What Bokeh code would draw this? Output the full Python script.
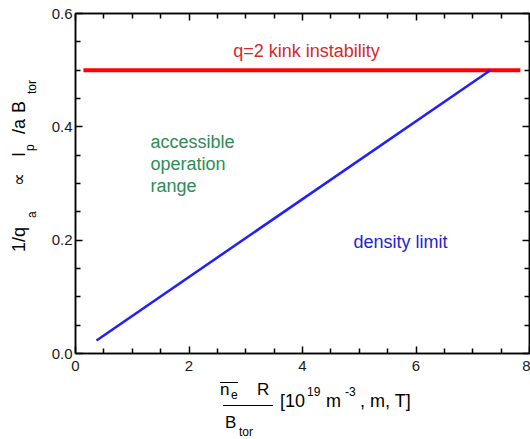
from bokeh.plotting import figure
from bokeh.models import (Range1d, LinearAxis, FixedTicker, NumeralTickFormatter, Label, Div)
from bokeh.layouts import row, column
from bokeh.embed import file_html
from bokeh.resources import INLINE

# ---- data ----
kink_x = [0.14, 7.84]
kink_y = [0.5, 0.5]
density_x = [0.37, 7.31]
density_y = [0.023, 0.5]
x_ticks = [0, 2, 4, 6, 8]
x_minor = [0.5, 1, 1.5, 2.5, 3, 3.5, 4.5, 5, 5.5, 6.5, 7, 7.5]
y_ticks = [0.0, 0.2, 0.4, 0.6]
y_minor = [0.05, 0.1, 0.15, 0.25, 0.3, 0.35, 0.45, 0.5, 0.55]

FONT = "Liberation Sans"
YDIV_W = 45
FIG_W, FIG_H = 485, 380
XDIV_H = 59
LEFT, RIGHT, TOP, BOTTOM = 30, 1, 13, 27

p = figure(width=FIG_W, height=FIG_H, output_backend="svg", toolbar_location=None,
           x_range=Range1d(0, 8), y_range=Range1d(0, 0.6),
           min_border_left=LEFT, min_border_right=RIGHT,
           min_border_top=TOP, min_border_bottom=BOTTOM,
           x_axis_location=None, y_axis_location=None, margin=0)
p.grid.visible = False
p.outline_line_color = "black"
p.outline_line_width = 1.5

def make_axis(ticks, minor, fmt, show_labels, standoff):
    ax = LinearAxis(ticker=FixedTicker(ticks=ticks, minor_ticks=minor),
                    formatter=NumeralTickFormatter(format=fmt))
    ax.major_tick_in = 7
    ax.major_tick_out = 0
    ax.minor_tick_in = 5
    ax.minor_tick_out = 0
    ax.axis_line_color = "black"
    ax.axis_line_width = 1.5
    ax.major_tick_line_width = 1.5
    ax.minor_tick_line_width = 1.5
    ax.major_label_text_font = FONT
    ax.major_label_text_font_size = "15px"
    ax.axis_label_standoff = 0
    ax.axis_label_text_color = None
    if show_labels:
        ax.major_label_text_color = "#1a1a1a"
        ax.major_label_standoff = standoff
    else:
        ax.major_label_text_color = None
        ax.major_label_standoff = 0
    return ax

p.add_layout(make_axis(x_ticks, x_minor, "0", True, 7), "below")
p.add_layout(make_axis(y_ticks, y_minor, "0.0", True, 3), "left")
p.add_layout(make_axis(x_ticks, x_minor, "0", False, 0), "above")
p.add_layout(make_axis(y_ticks, y_minor, "0.0", False, 0), "right")

p.line(kink_x, kink_y, line_color="#ff0000", line_width=4)
p.line(density_x, density_y, line_color="#1f1fff", line_width=2.5)

# pixel helpers for annotation placement inside the frame (page coords)
FX0 = YDIV_W + LEFT
FY0 = TOP + (FIG_H - TOP - BOTTOM)
FW = FIG_W - LEFT - RIGHT
FH = FIG_H - TOP - BOTTOM
def dx(px):
    return (px - FX0) * 8 / FW
def dy(py):
    return (FY0 - py) * 0.6 / FH

def lab(text, px, py, size, color, align="left"):
    p.add_layout(Label(x=dx(px), y=dy(py), text=text, text_font=FONT,
                       text_font_size=f"{size}px", text_color=color,
                       text_align=align, text_baseline="middle"))

lab("q=2 kink instability", 306, 50, 18, "#d42a2a", align="center")
for i, t in enumerate(["accessible", "operation", "range"]):
    lab(t, 150, 141 + 22 * i, 18, "#2e8b57")
lab("density limit", 353, 241, 18, "#2323d0")

# ---- axis titles as HTML text ----
ASC = 0.8465  # baseline offset / font size with line-height = font size

def hpiece(text, x, baseline, size):
    top = baseline - ASC * size
    return (f'<div style="position:absolute;left:{x}px;top:{top:.1f}px;'
            f'font-size:{size}px;line-height:{size}px;white-space:nowrap">{text}</div>')

def vpiece(text, baseline_x, start_y, size):
    left = baseline_x - ASC * size
    return (f'<div style="position:absolute;left:{left:.1f}px;top:{start_y}px;'
            f'font-size:{size}px;line-height:{size}px;white-space:nowrap;'
            f'transform:rotate(-90deg);transform-origin:0 0">{text}</div>')

ypieces = [
    vpiece("1/q", 25, 252, 18),
    vpiece("a", 36, 218, 12),
    vpiece("&#8733;", 25, 186, 18),
    vpiece("I", 25, 157, 18),
    vpiece("p", 34, 151, 12),
    vpiece("/a", 25, 134, 18),
    vpiece("B", 25, 113, 18),
    vpiece("tor", 36, 94, 12),
]
ydiv = Div(width=YDIV_W, height=FIG_H, margin=0, text=(
    f'<div style="position:relative;width:{YDIV_W}px;height:{FIG_H}px;'
    f'font-family:\'{FONT}\';color:#000">' + "".join(ypieces) + '</div>'))

X0 = FIG_H  # page y of the x-title div
xpieces = [
    hpiece("n", 220, 395 - X0, 17),
    hpiece("e", 231, 399 - X0, 12),
    hpiece("R", 257, 395 - X0, 17),
    f'<div style="position:absolute;left:220px;top:{382 - X0}px;width:18px;border-top:1.3px solid #000"></div>',
    f'<div style="position:absolute;left:223px;top:{405 - X0}px;width:50px;border-top:1.3px solid #000"></div>',
    hpiece("B", 225, 428 - X0, 17),
    hpiece("tor", 239, 436 - X0, 12),
    hpiece("[10", 280, 407 - X0, 18),
    hpiece("19", 307, 396 - X0, 12),
    hpiece("m", 326, 407 - X0, 18),
    hpiece("-3", 345, 396 - X0, 12),
    hpiece(", m, T]", 360, 407 - X0, 18),
]
xdiv = Div(width=YDIV_W + FIG_W, height=XDIV_H, margin=0, text=(
    f'<div style="position:relative;width:{YDIV_W + FIG_W}px;height:{XDIV_H}px;'
    f'font-family:\'{FONT}\';color:#000">' + "".join(xpieces) + '</div>'))

layout = column(row(ydiv, p, spacing=0, margin=0), xdiv, spacing=0, margin=0)

open("out.html", "w").write(file_html(layout, INLINE))
